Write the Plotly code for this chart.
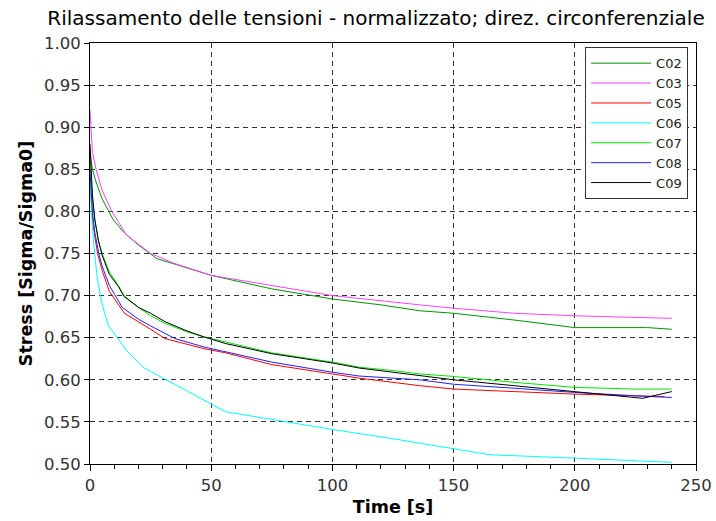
import plotly.graph_objects as go

title = "Rilassamento delle tensioni - normalizzato; direz. circonferenziale"
x_label = "Time [s]"
y_label = "Stress [Sigma/Sigma0]"

names = ["C02", "C03", "C05", "C06", "C07", "C08", "C09"]
colors = ["#009600", "#ff40ff", "#ff0000", "#00ffff", "#00e600", "#2020ff", "#000000"]

t_C02 = [0, 1, 2.5, 5, 9.6, 13.7, 20, 27.5, 50, 75, 100, 120, 136, 150, 175, 200, 230, 240]
v_C02 = [0.87, 0.85, 0.835, 0.815, 0.79, 0.776, 0.76, 0.744, 0.724, 0.708, 0.696, 0.689, 0.682, 0.679, 0.671, 0.662, 0.662, 0.660]

t_C03 = [0, 1, 2.5, 5, 9, 15, 25, 35, 50, 75, 100, 136, 150, 175, 200, 240]
v_C03 = [0.92, 0.87, 0.85, 0.825, 0.80, 0.772, 0.750, 0.738, 0.724, 0.712, 0.700, 0.689, 0.685, 0.679, 0.676, 0.673]

t_C05 = [0, 0.5, 1, 2, 3.2, 5, 8, 14.2, 20, 25, 30.9, 47, 56, 75, 100, 111, 136, 150, 175, 200, 225, 237]
v_C05 = [0.84, 0.81, 0.79, 0.77, 0.749, 0.73, 0.705, 0.679, 0.669, 0.660, 0.649, 0.637, 0.632, 0.618, 0.607, 0.602, 0.593, 0.589, 0.586, 0.583, 0.581, 0.580]

t_C06 = [0, 0.5, 1, 1.8, 3, 5, 7.5, 15, 22.4, 56, 100, 125, 150, 165, 200, 225, 240]
v_C06 = [0.84, 0.80, 0.78, 0.754, 0.72, 0.69, 0.665, 0.635, 0.614, 0.562, 0.541, 0.530, 0.518, 0.511, 0.507, 0.504, 0.502]

t_C07 = [0, 0.5, 1, 2, 3.5, 5, 8, 11.7, 14, 20, 25, 31, 40, 47, 56, 75, 100, 111, 125, 136, 150, 175, 200, 225, 240]
v_C07 = [0.86, 0.83, 0.815, 0.79, 0.765, 0.75, 0.728, 0.712, 0.700, 0.686, 0.676, 0.667, 0.657, 0.651, 0.645, 0.632, 0.621, 0.615, 0.611, 0.607, 0.604, 0.597, 0.591, 0.589, 0.589]

t_C08 = [0, 0.5, 1, 2, 3.7, 5, 8, 13.3, 20, 25, 35, 47, 56, 75, 100, 111, 136, 150, 175, 200, 225, 240]
v_C08 = [0.85, 0.82, 0.80, 0.775, 0.749, 0.735, 0.712, 0.686, 0.672, 0.664, 0.649, 0.639, 0.633, 0.621, 0.609, 0.6045, 0.600, 0.5947, 0.590, 0.585, 0.581, 0.579]

t_C09 = [0, 0.5, 1, 2, 3.5, 5, 8, 11.7, 14, 20, 25, 31, 40, 47, 56, 75, 100, 111, 125, 136, 150, 175, 200, 215, 228, 240]
v_C09 = [0.88, 0.84, 0.82, 0.79, 0.765, 0.748, 0.725, 0.711, 0.699, 0.686, 0.679, 0.669, 0.658, 0.651, 0.643, 0.631, 0.620, 0.614, 0.609, 0.605, 0.600, 0.593, 0.586, 0.582, 0.578, 0.586]

series_t = [t_C02, t_C03, t_C05, t_C06, t_C07, t_C08, t_C09]
series_v = [v_C02, v_C03, v_C05, v_C06, v_C07, v_C08, v_C09]

x_ticks = [0, 50, 100, 150, 200, 250]
y_ticks = [0.50, 0.55, 0.60, 0.65, 0.70, 0.75, 0.80, 0.85, 0.90, 0.95, 1.00]

FONT = "DejaVu Sans"

fig = go.Figure()
for n, c, t, v in zip(names, colors, series_t, series_v):
    fig.add_trace(go.Scatter(x=t, y=v, mode="lines", name=n,
                             line=dict(color=c, width=1)))

fig.update_layout(
    width=716, height=521,
    margin=dict(l=90, r=20, t=43, b=57, autoexpand=False),
    paper_bgcolor="white", plot_bgcolor="white",
    font=dict(family=FONT, size=15, color="#222"),
    title=dict(text=title, x=376/716, xref="container", xanchor="center",
               y=1 - 18/521, yanchor="middle",
               font=dict(family=FONT, size=20, color="#000")),
    showlegend=True,
    legend=dict(x=0.987, xanchor="right", y=0.99, yanchor="top",
                bgcolor="white", bordercolor="#333", borderwidth=1,
                font=dict(family=FONT, size=13, color="#222"),
                itemwidth=60, tracegroupgap=0),
)

fig.update_xaxes(
    range=[0, 250], tickvals=x_ticks, ticktext=[str(v) for v in x_ticks],
    showline=True, linecolor="#000", linewidth=1, mirror=True,
    ticks="outside", ticklen=6, tickcolor="#000",
    minor=dict(ticks="outside", ticklen=4, dtick=10, tick0=0, tickcolor="#000", showgrid=False),
    showgrid=True, gridcolor="#333", gridwidth=1, griddash="5px,4px",
    zeroline=False,
    title=dict(text="<b>" + x_label + "</b>", font=dict(family=FONT, size=17.5, color="#000"), standoff=6),
    tickfont=dict(family=FONT, size=16.5, color="#333"),
)
fig.update_yaxes(
    range=[0.5, 1.0], tickvals=y_ticks, ticktext=["%.2f" % v for v in y_ticks],
    showline=True, linecolor="#000", linewidth=1, mirror=True,
    ticks="outside", ticklen=5, tickcolor="#000",
    showgrid=True, gridcolor="#333", gridwidth=1, griddash="5px,4px",
    zeroline=False,
    title=dict(text="<b>" + y_label + "</b>", font=dict(family=FONT, size=17.5, color="#000"), standoff=6),
    tickfont=dict(family=FONT, size=16.5, color="#333"),
)

fig.write_html("out.html")
